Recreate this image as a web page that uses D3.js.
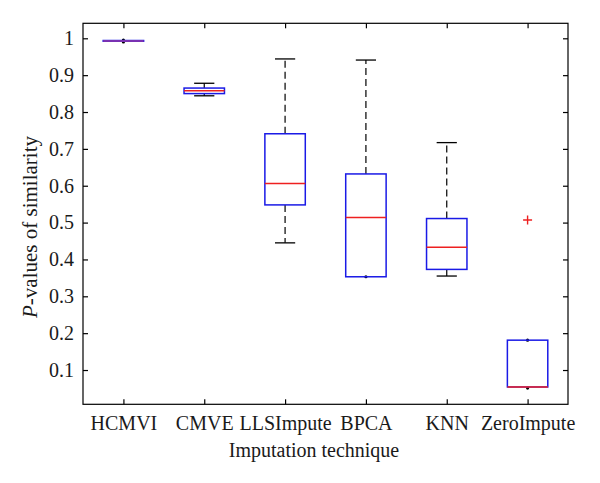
<!DOCTYPE html>
<html><head><meta charset="utf-8">
<script src="https://cdn.jsdelivr.net/npm/d3@7"></script>
<style>body{margin:0;background:#fff}svg{display:block}text{font-family:"Liberation Serif","DejaVu Serif",serif;fill:#1a1a1a}</style>
</head><body><svg id="c" width="600" height="483"></svg>
<script>
const categories = ["HCMVI","CMVE","LLSImpute","BPCA","KNN","ZeroImpute"];
const whiskerLow  = [0.990, 0.844, 0.445, 0.353, 0.355, 0.051];
const quartile1   = [0.992, 0.850, 0.548, 0.353, 0.373, 0.054];
const medians     = [0.993, 0.858, 0.606, 0.514, 0.433, 0.054];
const quartile3   = [0.994, 0.865, 0.741, 0.632, 0.511, 0.181];
const whiskerHigh = [0.995, 0.878, 0.944, 0.941, 0.717, 0.181];
const outliers    = [[],[],[],[],[],[0.507]];
const yTicks = [0.1,0.2,0.3,0.4,0.5,0.6,0.7,0.8,0.9,1];

const svg = d3.select("#c");
const L=83, R=568, T=23.3, B=404.3;
const x = d3.scaleLinear().domain([0.5,6.5]).range([L,R]);
const y = d3.scaleLinear().domain([0.007,1.0407]).range([B,T]);
const boxW = x(1.25)-x(1), capW = x(1.125)-x(1);

svg.append("rect").attr("x",L).attr("y",T).attr("width",R-L).attr("height",B-T)
  .attr("fill","none").attr("stroke","#000").attr("stroke-width",1.2);

const fmt = d => d===1 ? "1" : d3.format(".1f")(d);
const gl = svg.append("g").attr("transform",`translate(${L},0)`)
  .call(d3.axisLeft(y).tickValues(yTicks).tickFormat(fmt).tickSizeInner(-5).tickSizeOuter(0).tickPadding(9));
const gr = svg.append("g").attr("transform",`translate(${R},0)`)
  .call(d3.axisRight(y).tickValues(yTicks).tickFormat("").tickSizeInner(-5).tickSizeOuter(0));
const gb = svg.append("g").attr("transform",`translate(0,${B})`)
  .call(d3.axisBottom(x).tickValues(d3.range(1,7)).tickFormat((d,i)=>categories[i]).tickSizeInner(-5).tickSizeOuter(0).tickPadding(12));
const gt = svg.append("g").attr("transform",`translate(0,${T})`)
  .call(d3.axisTop(x).tickValues(d3.range(1,7)).tickFormat("").tickSizeInner(-5).tickSizeOuter(0));
[gl,gr,gb,gt].forEach(g=>{
  g.select(".domain").remove();
  g.selectAll(".tick line").attr("stroke","#000").attr("stroke-width",1.2);
  g.selectAll("text").attr("font-size",20).attr("fill","#1a1a1a").attr("font-family","Liberation Serif, serif");
});

categories.forEach((c,i)=>{
  const cx = x(i+1);
  const g = svg.append("g");
  g.append("line").attr("x1",cx).attr("x2",cx).attr("y1",y(quartile3[i])).attr("y2",y(whiskerHigh[i]))
    .attr("stroke","#000").attr("stroke-width",1.2).attr("stroke-dasharray","7,4");
  g.append("line").attr("x1",cx).attr("x2",cx).attr("y1",y(quartile1[i])).attr("y2",y(whiskerLow[i]))
    .attr("stroke","#000").attr("stroke-width",1.2).attr("stroke-dasharray","7,4");
  [whiskerHigh[i], whiskerLow[i]].forEach(v=>{
    const capDegenerate = (v===whiskerHigh[i] && Math.abs(v-quartile3[i])<0.003) || (v===whiskerLow[i] && Math.abs(v-quartile1[i])<0.004);
    if (capDegenerate) {
      g.append("circle").attr("cx",cx).attr("cy",y(v)).attr("r",1.6).attr("fill","#000");
    } else {
      g.append("line").attr("x1",cx-capW).attr("x2",cx+capW).attr("y1",y(v)).attr("y2",y(v))
        .attr("stroke","#000").attr("stroke-width",1.3);
    }
  });
  g.append("rect").attr("x",cx-boxW).attr("width",2*boxW)
    .attr("y",y(quartile3[i])).attr("height",Math.max(0.5,y(quartile1[i])-y(quartile3[i])))
    .attr("fill","none").attr("stroke","#1a1ae6").attr("stroke-width",1.5);
  g.append("line").attr("x1",cx-boxW).attr("x2",cx+boxW).attr("y1",y(medians[i])).attr("y2",y(medians[i]))
    .attr("stroke", i===0 ? "#9a3aa0" : "#ee2020").attr("stroke-width",1.5);
  outliers[i].forEach(v=>{
    const s=4.5;
    g.append("path").attr("d",`M${cx-s},${y(v)}H${cx+s}M${cx},${y(v)-s}V${y(v)+s}`)
      .attr("stroke","#ee2020").attr("stroke-width",1.4).attr("fill","none");
  });
});

svg.append("text").attr("x",314).attr("y",457).attr("text-anchor","middle").attr("font-size",20)
  .text("Imputation technique");
const yl = svg.append("text").attr("transform","translate(37,227) rotate(-90)").attr("text-anchor","middle").attr("font-size",21);
yl.append("tspan").attr("font-style","italic").text("P");
yl.append("tspan").text("-values of similarity");
</script></body></html>
